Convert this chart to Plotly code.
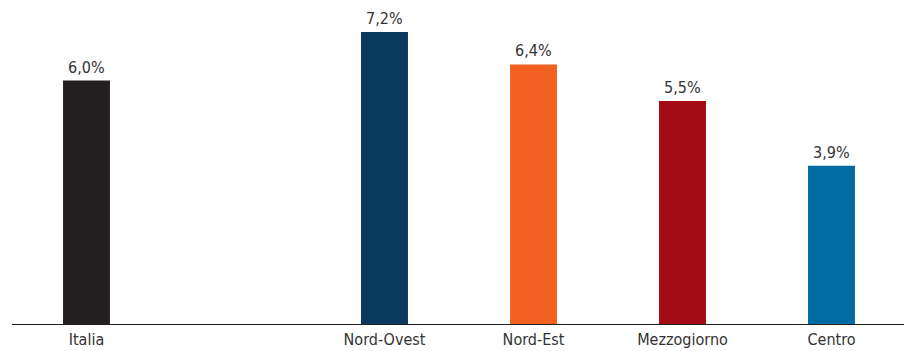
import plotly.graph_objects as go

categories = ["Italia", "Nord-Ovest", "Nord-Est", "Mezzogiorno", "Centro"]
positions = [0, 2, 3, 4, 5]
values = [6.0, 7.2, 6.4, 5.5, 3.9]
colors = ["#231f20", "#0a3a5e", "#f26122", "#a50b14", "#006aa3"]

FONT = "DejaVu Sans Condensed, Liberation Sans Narrow, sans-serif"

fig = go.Figure(go.Bar(
    x=positions,
    y=values,
    width=0.315,
    marker=dict(color=colors, line=dict(width=0)),
    hoverinfo="x+y",
))

for xp, v in zip(positions, values):
    fig.add_annotation(
        x=xp, y=v, xref="x", yref="y",
        text=f"{v:.1f}%".replace(".", ","),
        showarrow=False, yanchor="bottom", yshift=3, borderpad=0,
        font=dict(family=FONT, size=16, color="#333333"),
    )

fig.update_layout(
    width=904, height=343,
    margin=dict(l=4, r=6, t=0, b=27, autoexpand=False),
    paper_bgcolor="white", plot_bgcolor="white",
    showlegend=False,
    font=dict(family=FONT, size=16, color="#333333"),
)
fig.update_xaxes(
    range=[-0.5, 5.5],
    tickvals=positions, ticktext=categories,
    showgrid=False, zeroline=False,
    showline=True, linecolor="#231f20", linewidth=1.2,
    ticks="", ticklabelstandoff=1,
    tickfont=dict(family=FONT, size=16, color="#333333"),
)
fig.update_yaxes(range=[0, 7.79], visible=False, showgrid=False, zeroline=False)

fig.write_html("out.html")
